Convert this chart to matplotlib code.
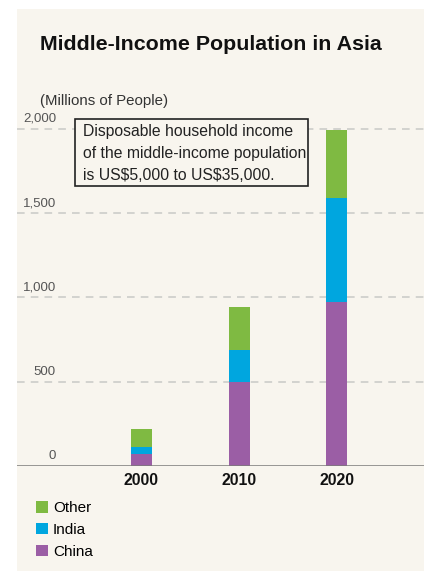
"""
Middle-Income Population in Asia - stacked bar chart
"""

import matplotlib.pyplot as plt
from matplotlib.patches import Rectangle

plt.rcParams["font.family"] = ["Liberation Sans", "DejaVu Sans"]

# Data (millions of people)
years = ["2000", "2010", "2020"]
china = [73, 500, 975]
india = [40, 188, 615]
other = [106, 255, 400]
series_labels = ["China", "India", "Other"]
y_ticks = [0, 500, 1000, 1500, 2000]
y_tick_labels = ["0", "500", "1,000", "1,500", "2,000"]

# Colors
BG = "#f8f5ee"
GREEN = "#7fba42"
BLUE = "#00a6df"
PURPLE = "#9b5ea5"
GRID = "#c9c9c6"

W, H = 424, 571
fig = plt.figure(figsize=(W / 100, H / 100), dpi=100)
fig.patch.set_facecolor("white")

# cream panel
fig.patches.append(
    Rectangle((17 / W, 0), 1 - 17 / W, (H - 9) / H, transform=fig.transFigure,
              facecolor=BG, edgecolor="none", zorder=-5)
)

# axes placed in pixel space: x from 17 to 424, y from 466 (0) up to 100
ax = fig.add_axes([17 / W, (H - 466) / H, 1 - 17 / W, (466 - 100) / H])
ax.set_facecolor("none")
px_per_unit = 84.3 / 500
ax.set_ylim(0, (466 - 100) / px_per_unit)
step = 97.5
ax.set_xlim((17 - 141.5) / step, (424 - 141.5) / step)

x = list(range(len(years)))
bw = 21 / step
bottom_india = china
bottom_other = [c + i for c, i in zip(china, india)]
b_china = ax.bar(x, china, width=bw, color=PURPLE, zorder=3)
b_india = ax.bar(x, india, width=bw, bottom=bottom_india, color=BLUE, zorder=3)
b_other = ax.bar(x, other, width=bw, bottom=bottom_other, color=GREEN, zorder=3)

# gridlines
for t in y_ticks[1:]:
    ax.axhline(t, color=GRID, lw=1.1, ls=(0, (5, 4)), zorder=1)
ax.axhline(0, color="#7a7a78", lw=1.8, zorder=4)

for sp in ax.spines.values():
    sp.set_visible(False)
ax.set_yticks([])
ax.set_xticks(x)
ax.set_xticklabels(years, fontsize=11.3, fontweight="bold", color="#111111")
ax.tick_params(axis="x", length=0, pad=5)

# y tick labels sit above their gridlines, right aligned
for t, lab in zip(y_ticks, y_tick_labels):
    ax.annotate(lab, xy=(0, t), xycoords=("figure pixels", "data"),
                xytext=(56, 4), textcoords=("figure pixels", "offset pixels"),
                ha="right", va="bottom", fontsize=9.5, color="#555555")

# title and unit label
fig.text(40 / W, 1 - 45 / H, "Middle-Income Population in Asia",
         ha="left", va="center", fontsize=15.4, fontweight="bold", color="#111111")
fig.text(40 / W, 1 - 101 / H, "(Millions of People)",
         ha="left", va="center", fontsize=10.8, color="#333333")

# note box
fig.patches.append(
    Rectangle((75 / W, 1 - 186 / H), 233 / W, 67 / H, transform=fig.transFigure,
              facecolor=BG, edgecolor="#222222", lw=1.2, zorder=5)
)
fig.text(83 / W, 1 - 153.5 / H,
         "Disposable household income\nof the middle-income population\nis US\\$5,000 to US\\$35,000.",
         ha="left", va="center", fontsize=11.3, color="#222222", linespacing=1.58,
         zorder=6)

# legend
fig.legend([b_other, b_india, b_china], ["Other", "India", "China"],
           loc="upper left", bbox_to_anchor=(36 / W, 1 - 501 / H),
           frameon=False, fontsize=11, handlelength=0.8, handleheight=0.8,
           handletextpad=0.3, labelspacing=0.5, borderpad=0, borderaxespad=0)

fig.savefig("out.png", dpi=100, facecolor="white")
